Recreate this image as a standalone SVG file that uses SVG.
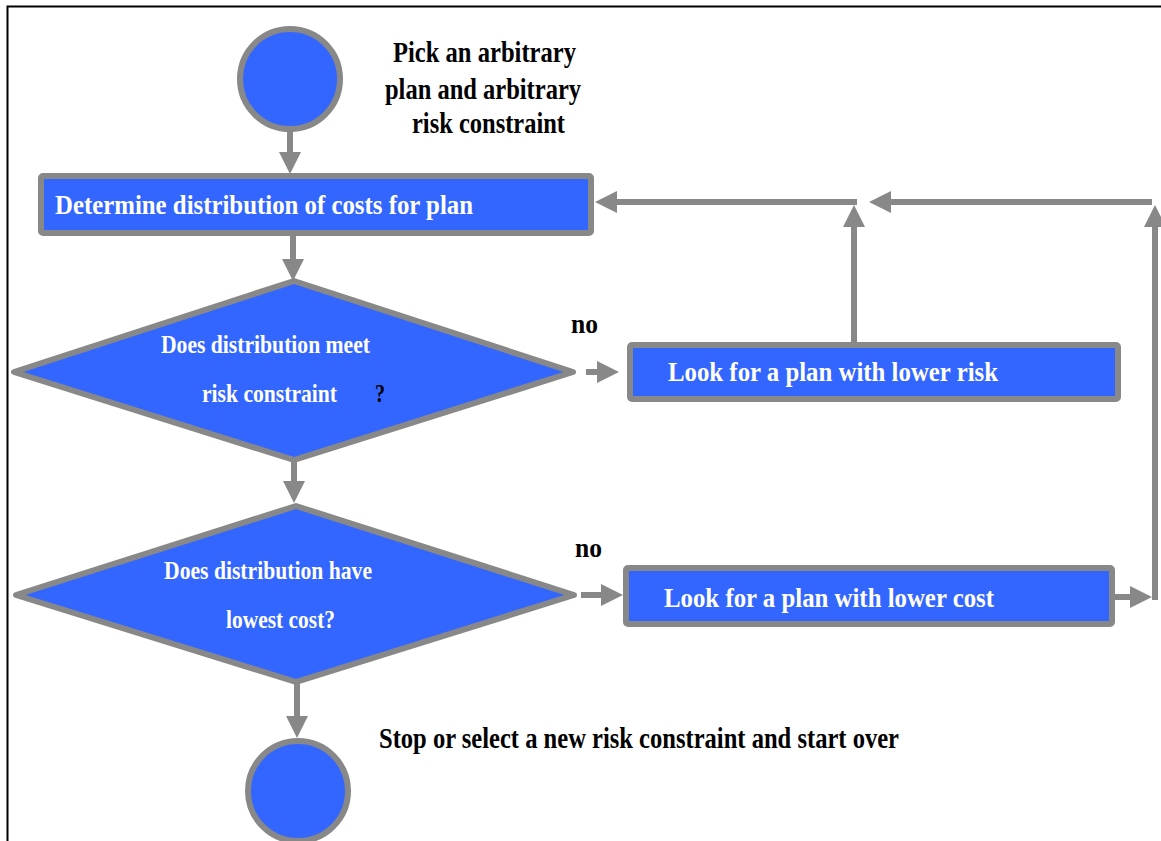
<svg xmlns="http://www.w3.org/2000/svg" width="1161" height="841" viewBox="0 0 1161 841">
<style>
.shape{fill:#3366FF;stroke:#888888;stroke-width:6;stroke-linejoin:round}
.conn{stroke:#888888;stroke-width:6;fill:none}
.wt{font-family:"Liberation Serif","Times New Roman",serif;font-weight:bold;fill:#FFFFFF}
.bt{font-family:"Liberation Serif","Times New Roman",serif;font-weight:bold;fill:#000000}
</style>
<defs>
<marker id="ah" markerUnits="userSpaceOnUse" markerWidth="23" markerHeight="22" refX="1" refY="11" orient="auto">
<path d="M0,0 L22,11 L0,22 z" fill="#888888"/>
</marker>
</defs>
<rect width="1161" height="841" fill="#FFFFFF"/>
<path d="M7.5,841 V6.5 H1161" fill="none" stroke="#000000" stroke-width="2"/>

<g id="connectors">
<line class="conn" x1="290" y1="131" x2="290" y2="153" marker-end="url(#ah)"/>
<line class="conn" x1="293" y1="235" x2="293" y2="260" marker-end="url(#ah)"/>
<line class="conn" x1="294" y1="461" x2="294" y2="482" marker-end="url(#ah)"/>
<line class="conn" x1="297" y1="683" x2="297" y2="717" marker-end="url(#ah)"/>
<line class="conn" x1="586" y1="372" x2="598" y2="372" marker-end="url(#ah)"/>
<line class="conn" x1="581" y1="595" x2="602" y2="595" marker-end="url(#ah)"/>
<line class="conn" x1="854" y1="343" x2="854" y2="226" marker-end="url(#ah)"/>
<line class="conn" x1="857" y1="202" x2="616" y2="202" marker-end="url(#ah)"/>
<line class="conn" x1="1115" y1="597" x2="1131" y2="597" marker-end="url(#ah)"/>
<line class="conn" x1="1155" y1="600" x2="1155" y2="226" marker-end="url(#ah)"/>
<line class="conn" x1="1152" y1="202" x2="890" y2="202" marker-end="url(#ah)"/>
</g>

<g id="start">
<circle class="shape" cx="290" cy="79" r="50"/>
<text class="bt" font-size="29" x="393" y="62" textLength="183" lengthAdjust="spacingAndGlyphs">Pick an arbitrary</text>
<text class="bt" font-size="29" x="385" y="99" textLength="196" lengthAdjust="spacingAndGlyphs">plan and arbitrary</text>
<text class="bt" font-size="29" x="412" y="133" textLength="153" lengthAdjust="spacingAndGlyphs">risk constraint</text>
</g>

<g id="determine">
<rect class="shape" x="41" y="176" width="550" height="57" rx="2"/>
<text class="wt" font-size="28" x="55" y="214" textLength="418" lengthAdjust="spacingAndGlyphs">Determine distribution of costs for plan</text>
</g>

<g id="decision-risk">
<polygon class="shape" points="14,372 294,281 573,372 294,460"/>
<text class="wt" font-size="25" x="161" y="353" textLength="209" lengthAdjust="spacingAndGlyphs">Does distribution meet</text>
<text class="wt" font-size="25" x="202" y="402" textLength="135" lengthAdjust="spacingAndGlyphs">risk constraint</text>
<text class="bt" font-size="25" x="375" y="402" textLength="10" lengthAdjust="spacingAndGlyphs">?</text>
</g>

<g id="label-no-1">
<text class="bt" font-size="27" x="571" y="333" textLength="27" lengthAdjust="spacingAndGlyphs">no</text>
</g>

<g id="lower-risk">
<rect class="shape" x="630" y="345" width="488" height="54" rx="2"/>
<text class="wt" font-size="28" x="668" y="381" textLength="330" lengthAdjust="spacingAndGlyphs">Look for a plan with lower risk</text>
</g>

<g id="decision-cost">
<polygon class="shape" points="16,595 296,506 574,595 296,682"/>
<text class="wt" font-size="25" x="164" y="579" textLength="208" lengthAdjust="spacingAndGlyphs">Does distribution have</text>
<text class="wt" font-size="25" x="226" y="628" textLength="109" lengthAdjust="spacingAndGlyphs">lowest cost?</text>
</g>

<g id="label-no-2">
<text class="bt" font-size="27" x="575" y="557" textLength="27" lengthAdjust="spacingAndGlyphs">no</text>
</g>

<g id="lower-cost">
<rect class="shape" x="626" y="568" width="486" height="56" rx="2"/>
<text class="wt" font-size="28" x="664" y="607" textLength="330" lengthAdjust="spacingAndGlyphs">Look for a plan with lower cost</text>
</g>

<g id="end">
<circle class="shape" cx="298" cy="791" r="50"/>
<text class="bt" font-size="29" x="379" y="748" textLength="520" lengthAdjust="spacingAndGlyphs">Stop or select a new risk constraint and start over</text>
</g>
</svg>
